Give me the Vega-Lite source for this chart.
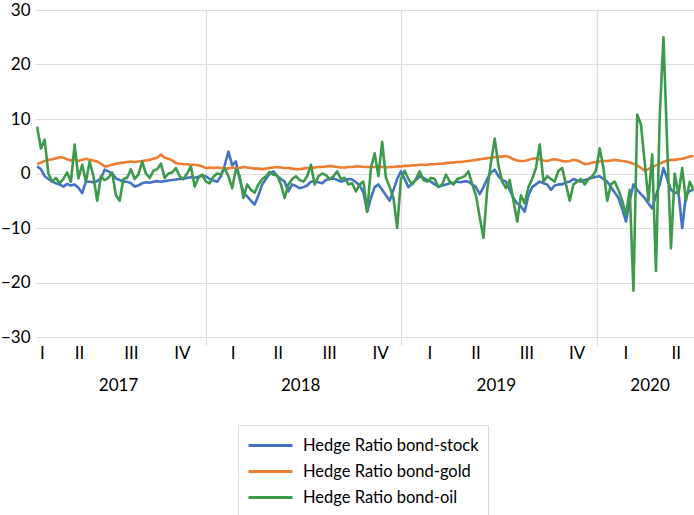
{
  "$schema": "https://vega.github.io/schema/vega-lite/v6.json",
  "description": "Hedge ratios of bonds against stock, gold and oil, 2017 to mid 2020.",
  "width": 659,
  "height": 327,
  "autosize": "none",
  "padding": {"left": 35, "top": 10, "right": 0, "bottom": 178},
  "background": "white",
  "config": {"font": "Lato", "view": {"stroke": null}},
  "datasets": {
    "hedge": [
      {"d":"2017-02-20","stock":1.3,"gold":1.7,"oil":8.6},
      {"d":"2017-02-27","stock":0.8,"gold":2.0,"oil":4.6},
      {"d":"2017-03-06","stock":-0.5,"gold":2.3,"oil":6.2},
      {"d":"2017-03-13","stock":-1.0,"gold":2.5,"oil":0.0},
      {"d":"2017-03-20","stock":-1.5,"gold":2.6,"oil":-1.5},
      {"d":"2017-03-27","stock":-1.8,"gold":2.8,"oil":-0.8},
      {"d":"2017-04-03","stock":-2.0,"gold":3.0,"oil":-1.8},
      {"d":"2017-04-10","stock":-2.4,"gold":2.9,"oil":-1.0},
      {"d":"2017-04-17","stock":-1.9,"gold":2.6,"oil":0.2},
      {"d":"2017-04-24","stock":-2.2,"gold":2.4,"oil":-1.5},
      {"d":"2017-05-01","stock":-2.0,"gold":2.6,"oil":5.3},
      {"d":"2017-05-08","stock":-2.6,"gold":2.3,"oil":-0.9},
      {"d":"2017-05-15","stock":-3.6,"gold":2.5,"oil":1.6},
      {"d":"2017-05-22","stock":-1.5,"gold":2.7,"oil":-1.5},
      {"d":"2017-05-29","stock":-1.5,"gold":2.5,"oil":2.2},
      {"d":"2017-06-05","stock":-1.6,"gold":2.4,"oil":-0.5},
      {"d":"2017-06-12","stock":-1.4,"gold":2.2,"oil":-5.0},
      {"d":"2017-06-19","stock":-0.9,"gold":1.8,"oil":-0.5},
      {"d":"2017-06-26","stock":0.7,"gold":1.3,"oil":-1.2},
      {"d":"2017-07-03","stock":0.4,"gold":1.4,"oil":-0.8},
      {"d":"2017-07-10","stock":0.0,"gold":1.6,"oil":0.2},
      {"d":"2017-07-17","stock":-0.9,"gold":1.8,"oil":-4.0},
      {"d":"2017-07-24","stock":-1.2,"gold":1.9,"oil":-5.0},
      {"d":"2017-07-31","stock":-1.5,"gold":2.0,"oil":-1.0},
      {"d":"2017-08-07","stock":-1.5,"gold":2.1,"oil":-0.8},
      {"d":"2017-08-14","stock":-1.8,"gold":2.2,"oil":0.8},
      {"d":"2017-08-21","stock":-2.4,"gold":2.1,"oil":-1.0},
      {"d":"2017-08-28","stock":-2.2,"gold":2.2,"oil":-0.2},
      {"d":"2017-09-04","stock":-1.8,"gold":2.3,"oil":2.2},
      {"d":"2017-09-11","stock":-1.6,"gold":2.4,"oil":0.0},
      {"d":"2017-09-18","stock":-1.7,"gold":2.5,"oil":-0.8},
      {"d":"2017-09-25","stock":-1.5,"gold":2.7,"oil":0.5},
      {"d":"2017-10-02","stock":-1.4,"gold":2.9,"oil":0.8},
      {"d":"2017-10-09","stock":-1.5,"gold":3.5,"oil":1.8},
      {"d":"2017-10-16","stock":-1.4,"gold":2.9,"oil":-0.8},
      {"d":"2017-10-23","stock":-1.3,"gold":2.7,"oil":0.0},
      {"d":"2017-10-30","stock":-1.2,"gold":2.4,"oil":0.2},
      {"d":"2017-11-06","stock":-1.1,"gold":1.9,"oil":1.0},
      {"d":"2017-11-13","stock":-1.0,"gold":1.8,"oil":-0.5},
      {"d":"2017-11-20","stock":-1.0,"gold":1.7,"oil":-1.0},
      {"d":"2017-11-27","stock":-0.8,"gold":1.7,"oil":0.0},
      {"d":"2017-12-04","stock":-0.7,"gold":1.6,"oil":1.3},
      {"d":"2017-12-11","stock":-0.8,"gold":1.6,"oil":-2.4},
      {"d":"2017-12-18","stock":-0.6,"gold":1.5,"oil":-0.8},
      {"d":"2017-12-25","stock":-0.4,"gold":1.3,"oil":-0.2},
      {"d":"2018-01-01","stock":-0.5,"gold":1.0,"oil":-1.5},
      {"d":"2018-01-08","stock":-1.0,"gold":1.1,"oil":-1.8},
      {"d":"2018-01-15","stock":-1.3,"gold":1.0,"oil":-0.6},
      {"d":"2018-01-22","stock":-1.5,"gold":1.1,"oil":0.0},
      {"d":"2018-01-29","stock":-0.5,"gold":1.0,"oil":-0.2},
      {"d":"2018-02-05","stock":1.5,"gold":1.0,"oil":1.0},
      {"d":"2018-02-12","stock":4.0,"gold":0.9,"oil":-0.5},
      {"d":"2018-02-19","stock":1.5,"gold":1.1,"oil":-2.7},
      {"d":"2018-02-26","stock":2.2,"gold":1.0,"oil":0.8},
      {"d":"2018-03-05","stock":-1.0,"gold":1.0,"oil":-0.5},
      {"d":"2018-03-12","stock":-3.5,"gold":1.2,"oil":-4.5},
      {"d":"2018-03-19","stock":-4.2,"gold":1.1,"oil":-2.0},
      {"d":"2018-03-26","stock":-5.0,"gold":1.0,"oil":-3.0},
      {"d":"2018-04-02","stock":-5.7,"gold":0.9,"oil":-3.5},
      {"d":"2018-04-09","stock":-4.0,"gold":0.9,"oil":-2.0},
      {"d":"2018-04-16","stock":-2.0,"gold":0.8,"oil":-1.0},
      {"d":"2018-04-23","stock":-1.0,"gold":0.9,"oil":-0.5},
      {"d":"2018-04-30","stock":0.0,"gold":1.0,"oil":0.3},
      {"d":"2018-05-07","stock":0.4,"gold":1.1,"oil":-0.2},
      {"d":"2018-05-14","stock":-0.5,"gold":1.2,"oil":-0.3},
      {"d":"2018-05-21","stock":-1.0,"gold":1.1,"oil":-2.0},
      {"d":"2018-05-28","stock":-1.5,"gold":1.0,"oil":-4.5},
      {"d":"2018-06-04","stock":-3.3,"gold":1.0,"oil":-2.0},
      {"d":"2018-06-11","stock":-2.0,"gold":0.9,"oil":-1.0},
      {"d":"2018-06-18","stock":-2.3,"gold":0.8,"oil":-0.5},
      {"d":"2018-06-25","stock":-2.7,"gold":0.8,"oil":-1.2},
      {"d":"2018-07-02","stock":-2.5,"gold":0.9,"oil":-1.5},
      {"d":"2018-07-09","stock":-2.2,"gold":1.0,"oil":-0.5},
      {"d":"2018-07-16","stock":-1.5,"gold":1.0,"oil":1.6},
      {"d":"2018-07-23","stock":-1.4,"gold":1.1,"oil":-2.0},
      {"d":"2018-07-30","stock":-1.6,"gold":1.2,"oil":-0.5},
      {"d":"2018-08-06","stock":-1.8,"gold":1.2,"oil":0.0},
      {"d":"2018-08-13","stock":-1.2,"gold":1.3,"oil":-0.3},
      {"d":"2018-08-20","stock":-1.0,"gold":1.4,"oil":-1.0},
      {"d":"2018-08-27","stock":-0.9,"gold":1.3,"oil":-0.5},
      {"d":"2018-09-03","stock":-1.2,"gold":1.2,"oil":0.4},
      {"d":"2018-09-10","stock":-1.5,"gold":1.1,"oil":-1.0},
      {"d":"2018-09-17","stock":-1.3,"gold":1.1,"oil":-0.8},
      {"d":"2018-09-24","stock":-1.0,"gold":1.2,"oil":-2.0},
      {"d":"2018-10-01","stock":-1.1,"gold":1.2,"oil":-1.8},
      {"d":"2018-10-08","stock":-1.6,"gold":1.3,"oil":-3.3},
      {"d":"2018-10-15","stock":-2.2,"gold":1.3,"oil":-2.0},
      {"d":"2018-10-22","stock":-3.5,"gold":1.2,"oil":-1.5},
      {"d":"2018-10-29","stock":-7.0,"gold":1.2,"oil":-7.0},
      {"d":"2018-11-05","stock":-4.5,"gold":1.2,"oil":1.0},
      {"d":"2018-11-12","stock":-2.5,"gold":1.2,"oil":3.7},
      {"d":"2018-11-19","stock":-2.0,"gold":1.3,"oil":-0.5},
      {"d":"2018-11-26","stock":-3.0,"gold":1.2,"oil":5.8},
      {"d":"2018-12-03","stock":-4.0,"gold":1.1,"oil":-0.8},
      {"d":"2018-12-10","stock":-5.0,"gold":1.2,"oil":-2.5},
      {"d":"2018-12-17","stock":-3.0,"gold":1.2,"oil":-4.5},
      {"d":"2018-12-24","stock":-1.0,"gold":1.3,"oil":-10.0},
      {"d":"2018-12-31","stock":0.4,"gold":1.3,"oil":-1.0},
      {"d":"2019-01-07","stock":-1.0,"gold":1.4,"oil":0.5},
      {"d":"2019-01-14","stock":-2.5,"gold":1.4,"oil":-1.0},
      {"d":"2019-01-21","stock":-1.8,"gold":1.5,"oil":-2.0},
      {"d":"2019-01-28","stock":-1.2,"gold":1.5,"oil":-1.0},
      {"d":"2019-02-04","stock":-0.5,"gold":1.6,"oil":0.4},
      {"d":"2019-02-11","stock":-0.8,"gold":1.6,"oil":-1.2},
      {"d":"2019-02-18","stock":-1.2,"gold":1.6,"oil":-1.5},
      {"d":"2019-02-25","stock":-1.5,"gold":1.7,"oil":-0.8},
      {"d":"2019-03-04","stock":-2.0,"gold":1.7,"oil":-1.0},
      {"d":"2019-03-11","stock":-2.4,"gold":1.8,"oil":-2.5},
      {"d":"2019-03-18","stock":-2.2,"gold":1.8,"oil":-2.0},
      {"d":"2019-03-25","stock":-2.0,"gold":1.9,"oil":-0.2},
      {"d":"2019-04-01","stock":-1.8,"gold":2.0,"oil":-1.5},
      {"d":"2019-04-08","stock":-1.7,"gold":2.0,"oil":-2.0},
      {"d":"2019-04-15","stock":-1.5,"gold":2.1,"oil":-1.0},
      {"d":"2019-04-22","stock":-1.6,"gold":2.1,"oil":-0.8},
      {"d":"2019-04-29","stock":-1.4,"gold":2.2,"oil":-0.5},
      {"d":"2019-05-06","stock":-1.5,"gold":2.3,"oil":0.4},
      {"d":"2019-05-13","stock":-2.0,"gold":2.4,"oil":-2.0},
      {"d":"2019-05-20","stock":-2.5,"gold":2.5,"oil":-4.0},
      {"d":"2019-05-27","stock":-3.8,"gold":2.6,"oil":-8.0},
      {"d":"2019-06-03","stock":-2.5,"gold":2.7,"oil":-11.8},
      {"d":"2019-06-10","stock":-1.0,"gold":2.8,"oil":-3.0},
      {"d":"2019-06-17","stock":0.2,"gold":2.9,"oil":2.0},
      {"d":"2019-06-24","stock":0.7,"gold":3.0,"oil":6.4},
      {"d":"2019-07-01","stock":-0.5,"gold":3.1,"oil":1.5},
      {"d":"2019-07-08","stock":-1.2,"gold":3.1,"oil":-1.5},
      {"d":"2019-07-15","stock":-1.5,"gold":3.2,"oil":-2.7},
      {"d":"2019-07-22","stock":-3.0,"gold":3.0,"oil":-1.2},
      {"d":"2019-07-29","stock":-4.5,"gold":2.6,"oil":-5.0},
      {"d":"2019-08-05","stock":-5.5,"gold":2.4,"oil":-8.8},
      {"d":"2019-08-12","stock":-6.0,"gold":2.3,"oil":-4.0},
      {"d":"2019-08-19","stock":-7.0,"gold":2.3,"oil":-5.5},
      {"d":"2019-08-26","stock":-4.0,"gold":2.5,"oil":-2.5},
      {"d":"2019-09-02","stock":-2.5,"gold":2.7,"oil":-1.0},
      {"d":"2019-09-09","stock":-2.0,"gold":2.8,"oil":1.0},
      {"d":"2019-09-16","stock":-1.5,"gold":2.6,"oil":5.3},
      {"d":"2019-09-23","stock":-1.8,"gold":2.4,"oil":-1.5},
      {"d":"2019-09-30","stock":-2.0,"gold":2.3,"oil":-0.5},
      {"d":"2019-10-07","stock":-3.0,"gold":2.5,"oil":-1.0},
      {"d":"2019-10-14","stock":-2.2,"gold":2.6,"oil":-1.5},
      {"d":"2019-10-21","stock":-2.0,"gold":2.5,"oil":0.5},
      {"d":"2019-10-28","stock":-2.0,"gold":2.3,"oil":1.0},
      {"d":"2019-11-04","stock":-1.6,"gold":2.2,"oil":-2.0},
      {"d":"2019-11-11","stock":-1.5,"gold":2.3,"oil":-5.0},
      {"d":"2019-11-18","stock":-1.0,"gold":2.5,"oil":-2.0},
      {"d":"2019-11-25","stock":-1.3,"gold":2.4,"oil":-1.5},
      {"d":"2019-12-02","stock":-1.5,"gold":2.1,"oil":-1.0},
      {"d":"2019-12-09","stock":-1.2,"gold":1.7,"oil":-2.0},
      {"d":"2019-12-16","stock":-1.0,"gold":1.8,"oil":-1.0},
      {"d":"2019-12-23","stock":-0.8,"gold":2.0,"oil":-0.5},
      {"d":"2019-12-30","stock":-0.6,"gold":2.1,"oil":0.5},
      {"d":"2020-01-06","stock":-0.5,"gold":2.2,"oil":4.6},
      {"d":"2020-01-13","stock":-1.0,"gold":2.3,"oil":1.0},
      {"d":"2020-01-20","stock":-1.5,"gold":2.3,"oil":-5.0},
      {"d":"2020-01-27","stock":-2.5,"gold":2.4,"oil":-2.0},
      {"d":"2020-02-03","stock":-3.5,"gold":2.5,"oil":-1.5},
      {"d":"2020-02-10","stock":-4.5,"gold":2.4,"oil":-3.0},
      {"d":"2020-02-17","stock":-6.5,"gold":2.3,"oil":-5.0},
      {"d":"2020-02-24","stock":-8.8,"gold":2.2,"oil":-7.5},
      {"d":"2020-03-02","stock":-5.0,"gold":2.0,"oil":-3.0},
      {"d":"2020-03-09","stock":-2.0,"gold":1.8,"oil":-21.5},
      {"d":"2020-03-16","stock":-3.0,"gold":1.5,"oil":10.8},
      {"d":"2020-03-23","stock":-3.8,"gold":1.0,"oil":9.0},
      {"d":"2020-03-30","stock":-4.5,"gold":0.5,"oil":2.0},
      {"d":"2020-04-06","stock":-5.5,"gold":0.8,"oil":-5.0},
      {"d":"2020-04-13","stock":-6.4,"gold":1.2,"oil":3.5},
      {"d":"2020-04-20","stock":-4.0,"gold":1.5,"oil":-17.9},
      {"d":"2020-04-27","stock":-2.0,"gold":1.8,"oil":10.4},
      {"d":"2020-05-04","stock":1.0,"gold":2.1,"oil":25.0},
      {"d":"2020-05-11","stock":-1.0,"gold":2.4,"oil":5.0},
      {"d":"2020-05-18","stock":-3.0,"gold":2.5,"oil":-13.7},
      {"d":"2020-05-25","stock":-3.5,"gold":2.5,"oil":0.0},
      {"d":"2020-06-01","stock":-3.5,"gold":2.6,"oil":-3.8},
      {"d":"2020-06-08","stock":-10.0,"gold":2.7,"oil":1.0},
      {"d":"2020-06-15","stock":-4.0,"gold":2.9,"oil":-5.0},
      {"d":"2020-06-22","stock":-3.2,"gold":3.1,"oil":-1.5},
      {"d":"2020-06-29","stock":-3.0,"gold":3.2,"oil":-3.0}
    ],
    "yearStarts": [
      {"d":"2018-01-01"},
      {"d":"2019-01-01"},
      {"d":"2020-01-01"}
    ],
    "yearMids": [
      {"d":"2017-07-21","year":"2017"},
      {"d":"2018-06-26","year":"2018"},
      {"d":"2019-06-26","year":"2019"},
      {"d":"2020-04-08","year":"2020"}
    ]
  },
  "layer": [
    {
      "data": {"name": "yearStarts"},
      "mark": {"type": "rule", "opacity": 0},
      "encoding": {
        "x": {
          "field": "d",
          "type": "temporal",
          "scale": {"type": "utc", "domain": [{"year": 2017, "month": 2, "date": 16, "utc": true}, {"year": 2020, "month": 6, "date": 30, "utc": true}]},
          "axis": {
            "orient": "bottom",
            "title": null,
            "values": [{"year": 2018, "month": 1, "date": 1, "utc": true}, {"year": 2019, "month": 1, "date": 1, "utc": true}, {"year": 2020, "month": 1, "date": 1, "utc": true}],
            "labels": false,
            "domain": false,
            "grid": true,
            "gridColor": "#dedede",
            "gridWidth": 1.2,
            "ticks": true,
            "tickSize": 8,
            "tickColor": "#dedede",
            "tickWidth": 1.2
          }
        }
      }
    },
    {
      "data": {"name": "hedge"},
      "transform": [{"fold": ["stock", "gold", "oil"], "as": ["series", "value"]}],
      "mark": {"type": "line", "strokeWidth": 2.6, "strokeJoin": "round"},
      "encoding": {
        "x": {
          "field": "d",
          "type": "temporal",
          "scale": {"type": "utc", "domain": [{"year": 2017, "month": 2, "date": 16, "utc": true}, {"year": 2020, "month": 6, "date": 30, "utc": true}]},
          "axis": {
            "orient": "bottom",
            "title": null,
            "values": [
              {"year": 2017, "month": 3, "date": 1, "utc": true},
              {"year": 2017, "month": 5, "date": 9, "utc": true},
              {"year": 2017, "month": 8, "date": 14, "utc": true},
              {"year": 2017, "month": 11, "date": 17, "utc": true},
              {"year": 2018, "month": 2, "date": 20, "utc": true},
              {"year": 2018, "month": 5, "date": 15, "utc": true},
              {"year": 2018, "month": 8, "date": 19, "utc": true},
              {"year": 2018, "month": 11, "date": 22, "utc": true},
              {"year": 2019, "month": 2, "date": 22, "utc": true},
              {"year": 2019, "month": 5, "date": 19, "utc": true},
              {"year": 2019, "month": 8, "date": 22, "utc": true},
              {"year": 2019, "month": 11, "date": 24, "utc": true},
              {"year": 2020, "month": 2, "date": 23, "utc": true},
              {"year": 2020, "month": 5, "date": 27, "utc": true}
            ],
            "labelExpr": "utcmonth(datum.value) < 3 ? 'I' : utcmonth(datum.value) < 6 ? 'II' : utcmonth(datum.value) < 9 ? 'III' : 'IV'",
            "labelFontSize": 17,
            "labelColor": "#000000",
            "labelPadding": 8,
            "labelFlush": false,
            "labelOverlap": false,
            "domain": false,
            "ticks": false,
            "grid": false
          }
        },
        "y": {
          "field": "value",
          "type": "quantitative",
          "scale": {"domain": [-30, 30], "nice": false},
          "axis": {
            "title": null,
            "values": [-30, -20, -10, 0, 10, 20, 30],
            "domain": false,
            "ticks": false,
            "labelFontSize": 17,
            "labelColor": "#000000",
            "labelPadding": 5,
            "gridColor": "#dedede",
            "gridWidth": 1.2
          }
        },
        "color": {
          "field": "series",
          "type": "nominal",
          "sort": ["stock", "gold", "oil"],
          "scale": {"domain": ["stock", "gold", "oil"], "range": ["#4472C4", "#ED7D31", "#3D9A4B"]},
          "legend": {
            "title": null,
            "orient": "none",
            "legendX": 203,
            "legendY": 415,
            "direction": "vertical",
            "padding": 9,
            "strokeColor": "#d9d9d9",
            "fillColor": "white",
            "symbolType": "M-1,0H3.4",
            "symbolSize": 400,
            "symbolStrokeWidth": 3,
            "rowPadding": 6,
            "labelOffset": 33,
            "labelFontSize": 16.5,
            "labelLimit": 0,
            "labelColor": "#000000",
            "labelExpr": "'Hedge Ratio bond-' + datum.label"
          }
        }
      }
    },
    {
      "data": {"name": "yearMids"},
      "mark": {"type": "rule", "opacity": 0},
      "encoding": {
        "x": {
          "field": "d",
          "type": "temporal",
          "scale": {"type": "utc", "domain": [{"year": 2017, "month": 2, "date": 16, "utc": true}, {"year": 2020, "month": 6, "date": 30, "utc": true}]},
          "axis": {
            "orient": "bottom",
            "title": null,
            "offset": 32,
            "values": [
              {"year": 2017, "month": 7, "date": 21, "utc": true},
              {"year": 2018, "month": 6, "date": 26, "utc": true},
              {"year": 2019, "month": 6, "date": 26, "utc": true},
              {"year": 2020, "month": 4, "date": 8, "utc": true}
            ],
            "labelExpr": "utcFormat(datum.value, '%Y')",
            "labelFontSize": 17,
            "labelColor": "#000000",
            "labelPadding": 8,
            "labelFlush": false,
            "labelOverlap": false,
            "domain": false,
            "ticks": false,
            "grid": false
          }
        }
      }
    }
  ],
  "resolve": {"axis": {"x": "independent"}}
}
